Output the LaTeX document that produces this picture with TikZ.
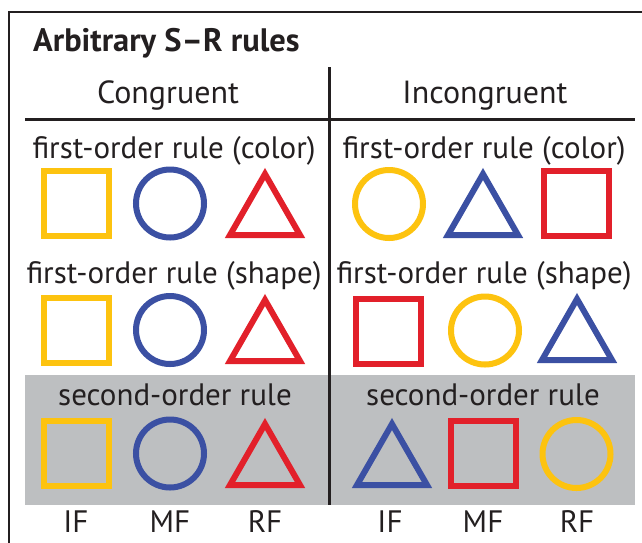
\documentclass[tikz,border=0pt]{standalone}
\usepackage{fontspec}
\setmainfont{PT Sans}
\definecolor{ylw}{HTML}{FDC30F}
\definecolor{blu}{HTML}{3B50A3}
\definecolor{rd}{HTML}{E2202A}
\definecolor{bandgray}{HTML}{BDBFC1}
\definecolor{ink}{HTML}{231F20}
\newcommand\mysq[3]{\draw[shp,#3,shift={(#1,#2)}] (-32.5,-32.5) rectangle (32.5,32.5);}
\newcommand\mycirc[3]{\draw[shp,#3] (#1,#2) circle[radius=34pt];}
\newcommand\mytri[3]{\draw[shp,#3,shift={(#1,#2)}] (0,-29) -- (35,32) -- (-35,32) -- cycle;}
\begin{document}
\begin{tikzpicture}[x=1pt,y=-1pt,
  lbl/.style={anchor=base, text=ink, inner sep=0pt, font=\fontsize{31}{31}\selectfont},
  hdr/.style={anchor=base, text=ink, inner sep=0pt, font=\fontsize{32}{32}\selectfont},
  ttl/.style={anchor=base west, text=ink, inner sep=0pt, font=\bfseries\fontsize{32.5}{32.5}\selectfont},
  shp/.style={line width=6pt, line join=miter},
  rulel/.style={line width=3pt, draw=ink},
]
\useasboundingbox (0,0) rectangle (642,542);
\fill[white] (0,0) rectangle (642,542);
% frame
\draw[line width=2pt, ink] (9,543) -- (9,12) -- (643,12);
% gray band
\fill[bandgray] (25,375) rectangle (635,505);
% rules
\draw[rulel] (25,119) -- (635,119);
\draw[rulel] (329,67) -- (329,505);
% texts
\node[ttl] (title) at (33,51) {Arbitrary S\textendash R rules};
\node[hdr] (cong) at (168,103) {Congruent};
\node[hdr] (incong) at (485,103) {Incongruent};
\node[lbl] (c1) at (174,158) {first-order rule (color)};
\node[lbl] (i1) at (484,158) {first-order rule (color)};
\node[lbl] (c2) at (174,283) {first-order rule (shape)};
\node[lbl] (i2) at (484,283) {first-order rule (shape)};
\node[lbl] (c3) at (175,405) {second-order rule};
\node[lbl] (i3) at (483,405) {second-order rule};
\node[lbl] (lif) at (76,532) {IF};
\node[lbl] (lmf) at (170,532) {MF};
\node[lbl] (lrf) at (265,532) {RF};
\node[lbl] (rif) at (390,532) {IF};
\node[lbl] (rmf) at (483,532) {MF};
\node[lbl] (rrf) at (577,532) {RF};
% row 1
\mysq{76.5}{203}{draw=ylw}
\mycirc{170}{203.5}{draw=blu}
\mytri{265}{203}{draw=rd}
\mycirc{389}{204}{draw=ylw}
\mytri{483}{203}{draw=blu}
\mysq{576.5}{203}{draw=rd}
% row 2
\mysq{76.5}{330}{draw=ylw}
\mycirc{170}{330}{draw=blu}
\mytri{265}{329}{draw=rd}
\mysq{388}{331}{draw=rd}
\mycirc{485}{330.5}{draw=ylw}
\mytri{577}{328}{draw=blu}
% row 3
\mysq{76}{453}{draw=ylw}
\mycirc{170}{453.5}{draw=blu}
\mytri{265}{453}{draw=rd}
\mytri{392}{453}{draw=blu}
\mysq{483}{453}{draw=rd}
\mycirc{576.5}{454}{draw=ylw}
\end{tikzpicture}
\end{document}
